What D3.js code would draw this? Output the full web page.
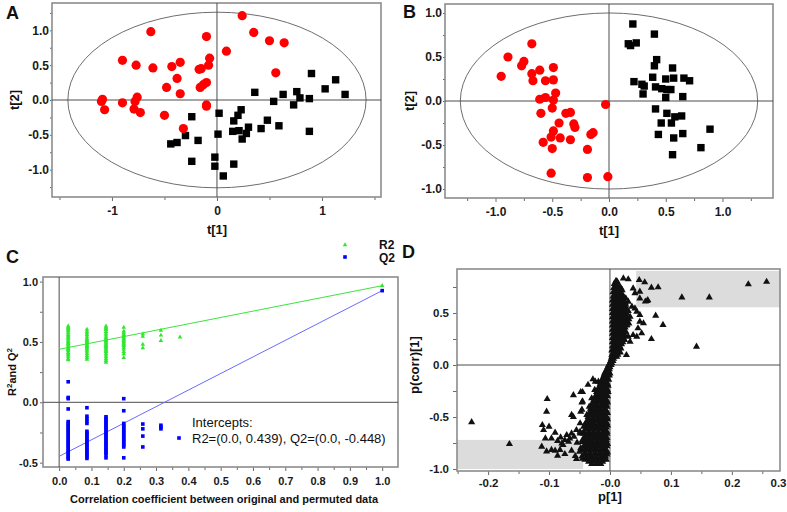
<!DOCTYPE html>
<html>
<head>
<meta charset="utf-8">
<script src="https://cdn.jsdelivr.net/npm/d3@7"></script>
<style>
body{margin:0;background:#fff;}
svg{display:block;font-family:Arial,"Liberation Sans",sans-serif;}
.tick text{font-weight:bold;fill:#1a1a1a;}
.tick line{stroke:#6a6a6a;}
</style>
</head>
<body>
<svg id="fig" width="787" height="512"></svg>
<script>
// ---- panel A: score plot, two groups ----
var aRed = [[0.24,1.21],[-0.63,0.98],[-0.10,0.91],[0.35,0.97],[0.50,0.85],[0.64,0.82],[0.09,0.70],
    [-0.90,0.57],[-0.77,0.50],[-0.61,0.46],[-0.43,0.48],[-0.35,0.54],[-0.07,0.60],[-0.08,0.50],
    [-0.15,0.45],[-0.17,0.44],[-0.38,0.31],[-0.48,0.18],[-0.35,0.09],[-0.10,0.25],[-0.13,0.22],
    [-0.16,0.18],[0.56,0.39],[-1.09,0.01],[-1.10,-0.02],[-1.07,-0.14],[-0.90,-0.04],[-0.76,0.04],
    [-0.78,-0.02],[-0.79,-0.13],[-0.73,-0.18],[-0.50,-0.22],[-0.10,-0.07],[-0.10,-0.09],[-0.32,-0.41]];
var aBlack = [[0.90,0.38],[1.13,0.29],[1.03,0.16],[1.22,0.08],[0.36,0.11],[0.63,0.08],[0.76,0.12],
    [0.79,0.03],[0.88,0.02],[0.54,-0.02],[0.73,-0.07],[0.02,-0.19],[0.23,-0.14],[0.20,-0.22],
    [0.16,-0.30],[0.48,-0.29],[-0.24,-0.24],[0.30,-0.39],[0.28,-0.48],[0.15,-0.45],[0.21,-0.44],
    [0.24,-0.56],[0.42,-0.41],[0.59,-0.37],[0.88,-0.45],[0.01,-0.49],[-0.30,-0.51],[-0.18,-0.58],
    [-0.38,-0.61],[-0.44,-0.63],[-0.24,-0.88],[-0.02,-0.82],[-0.02,-0.95],[0.16,-0.92],[0.06,-1.09]];
var aEllipse = [1.42,1.26];
var aXTicks = [-1,0,1];
var aXMinor = [-1.5,-0.5,0.5,1.5];
var aYTicks = [-1.0,-0.5,0.0,0.5,1.0];
var aYMinor = [-1.25,-0.75,-0.25,0.25,0.75,1.25];

// ---- panel B: score plot after filtering ----
var bRed = [[-0.68,0.65],[-0.89,0.50],[-0.75,0.45],[-0.77,0.40],[-0.95,0.28],[-0.68,0.31],[-0.67,0.23],
    [-0.61,0.35],[-0.49,0.38],[-0.56,0.23],[-0.49,0.24],[-0.47,0.09],[-0.61,0.02],[-0.56,0.04],
    [-0.49,0.01],[-0.50,-0.08],[-0.03,-0.04],[-0.60,-0.14],[-0.38,-0.14],[-0.34,-0.13],[-0.44,-0.25],
    [-0.31,-0.26],[-0.30,-0.30],[-0.49,-0.34],[-0.14,-0.36],[-0.16,-0.38],[-0.51,-0.41],[-0.43,-0.42],
    [-0.34,-0.44],[-0.58,-0.47],[-0.50,-0.54],[-0.19,-0.55],[-0.51,-0.82],[-0.19,-0.87],[-0.01,-0.86]];
var bBlack = [[0.21,0.875],[0.40,0.76],[0.17,0.65],[0.24,0.66],[0.19,0.63],[0.42,0.47],[0.40,0.40],
    [0.56,0.375],[0.22,0.22],[0.29,0.19],[0.31,0.17],[0.385,0.27],[0.50,0.25],[0.57,0.26],[0.66,0.26],
    [0.71,0.23],[0.41,0.16],[0.465,0.14],[0.51,0.13],[0.545,0.13],[0.30,0.08],[0.50,0.04],[0.65,0.05],
    [0.41,-0.09],[0.51,-0.14],[0.58,-0.18],[0.64,-0.17],[0.46,-0.25],[0.55,-0.25],[0.89,-0.32],
    [0.435,-0.38],[0.65,-0.37],[0.57,-0.42],[0.81,-0.53],[0.56,-0.61]];
var bEllipse = [1.31,1.0];
var bXTicks = [-1.0,-0.5,0.0,0.5,1.0];
var bXMinor = [-1.25,-0.75,-0.25,0.25,0.75,1.25];
var bYTicks = [-1.0,-0.5,0.0,0.5,1.0];
var bYMinor = [-0.75,-0.25,0.25,0.75];

// ---- panel C: permutation test ----
// each column: [correlation, list of values]
var r2Columns = [
    [0.028,[0.63,0.62,0.61,0.60,0.59,0.575,0.56,0.55,0.54,0.53,0.515,0.505,0.495,0.485,0.475,0.465,0.455,0.445,0.435,0.425,0.41,0.40,0.39,0.375,0.36,0.35]],
    [0.086,[0.605,0.59,0.575,0.56,0.545,0.53,0.52,0.51,0.50,0.49,0.48,0.47,0.46,0.45,0.44,0.43,0.415,0.40,0.385,0.37,0.355]],
    [0.145,[0.63,0.62,0.61,0.60,0.585,0.57,0.555,0.54,0.53,0.52,0.51,0.50,0.49,0.48,0.47,0.46,0.45,0.44,0.43,0.42,0.405,0.39,0.375,0.36,0.345,0.33]],
    [0.200,[0.62,0.59,0.575,0.56,0.55,0.54,0.53,0.52,0.51,0.50,0.49,0.48,0.47,0.455,0.44,0.42,0.40,0.37]],
    [0.259,[0.565,0.545,0.48,0.45]],
    [0.315,[0.595,0.555,0.51]],
    [0.374,[0.54]],
    [1.000,[0.966]]
];
var q2Columns = [
    [0.028,[0.17,0.04,0.03,-0.055,-0.16,-0.175,-0.19,-0.205,-0.22,-0.235,-0.25,-0.265,-0.28,-0.295,-0.31,-0.325,-0.34,-0.355,-0.37,-0.385,-0.40,-0.415,-0.43,-0.445,-0.46,-0.47]],
    [0.086,[-0.045,-0.115,-0.135,-0.155,-0.175,-0.24,-0.255,-0.27,-0.285,-0.30,-0.315,-0.33,-0.345,-0.36,-0.375,-0.39,-0.405,-0.42,-0.435,-0.45,-0.465]],
    [0.145,[-0.12,-0.135,-0.15,-0.165,-0.18,-0.195,-0.21,-0.225,-0.24,-0.255,-0.27,-0.285,-0.30,-0.315,-0.33,-0.345,-0.36,-0.375,-0.39,-0.405,-0.42,-0.435,-0.46]],
    [0.200,[0.03,-0.07,-0.175,-0.19,-0.205,-0.22,-0.235,-0.25,-0.265,-0.28,-0.295,-0.31,-0.325,-0.34,-0.355,-0.37,-0.46]],
    [0.259,[-0.18,-0.22,-0.28,-0.37]],
    [0.315,[-0.19,-0.205,-0.22]],
    [1.000,[0.925]]
];
var r2Line = [[0,0.439],[1.0,0.966]];
var q2Line = [[0,-0.448],[1.0,0.925]];
var cXTicks = [0.0,0.1,0.2,0.3,0.4,0.5,0.6,0.7,0.8,0.9,1.0];
var cXMinor = [0.05,0.15,0.25,0.35,0.45,0.55,0.65,0.75,0.85,0.95];
var cYTicks = [-0.5,0.0,0.5,1.0];
var cYMinor = [-0.25,0.25,0.75];
var interceptLines = ["Intercepts:","R2=(0.0, 0.439), Q2=(0.0, -0.448)"];

// ---- panel D: S-plot ----
// dense band, rows of [p(corr), list of p values]
var dBand = [
    [-0.95,[-0.03,-0.022,-0.015]],
    [-0.93,[-0.035,-0.028,-0.02,-0.012]],
    [-0.91,[-0.041,-0.034,-0.026,-0.018,-0.011,-0.006]],
    [-0.90,[-0.045,-0.038,-0.03,-0.022,-0.015,-0.008]],
    [-0.88,[-0.046,-0.038,-0.03,-0.022,-0.014,-0.007]],
    [-0.86,[-0.042,-0.034,-0.026,-0.018,-0.01,-0.005]],
    [-0.84,[-0.041,-0.033,-0.025,-0.017,-0.009,-0.004]],
    [-0.82,[-0.045,-0.037,-0.029,-0.021,-0.013,-0.006]],
    [-0.80,[-0.048,-0.039,-0.031,-0.023,-0.015,-0.008]],
    [-0.78,[-0.043,-0.035,-0.027,-0.019,-0.011,-0.005]],
    [-0.76,[-0.04,-0.032,-0.024,-0.016,-0.008,-0.004]],
    [-0.74,[-0.046,-0.038,-0.03,-0.022,-0.014,-0.006]],
    [-0.72,[-0.045,-0.037,-0.029,-0.021,-0.013,-0.006]],
    [-0.70,[-0.042,-0.034,-0.026,-0.018,-0.01,-0.005]],
    [-0.68,[-0.039,-0.031,-0.023,-0.015,-0.007]],
    [-0.66,[-0.044,-0.036,-0.028,-0.02,-0.012,-0.005]],
    [-0.64,[-0.043,-0.035,-0.027,-0.019,-0.011,-0.005]],
    [-0.62,[-0.04,-0.032,-0.024,-0.016,-0.008]],
    [-0.60,[-0.037,-0.029,-0.021,-0.013,-0.006]],
    [-0.58,[-0.041,-0.033,-0.025,-0.017,-0.009,-0.004]],
    [-0.56,[-0.04,-0.033,-0.026,-0.018,-0.011,-0.005]],
    [-0.54,[-0.038,-0.03,-0.022,-0.014,-0.007]],
    [-0.52,[-0.035,-0.027,-0.019,-0.011,-0.004]],
    [-0.50,[-0.036,-0.028,-0.02,-0.012,-0.005]],
    [-0.48,[-0.038,-0.031,-0.023,-0.015,-0.008]],
    [-0.46,[-0.034,-0.026,-0.018,-0.01,-0.004]],
    [-0.44,[-0.03,-0.022,-0.014,-0.006]],
    [-0.42,[-0.032,-0.024,-0.016,-0.008]],
    [-0.40,[-0.034,-0.027,-0.02,-0.012,-0.005]],
    [-0.38,[-0.03,-0.022,-0.014,-0.006]],
    [-0.36,[-0.026,-0.018,-0.01,-0.004]],
    [-0.34,[-0.027,-0.02,-0.013,-0.005]],
    [-0.32,[-0.03,-0.022,-0.015,-0.008]],
    [-0.30,[-0.024,-0.017,-0.01,-0.004]],
    [-0.28,[-0.02,-0.013,-0.006]],
    [-0.26,[-0.022,-0.015,-0.008,-0.003]],
    [-0.24,[-0.025,-0.017,-0.01,-0.004]],
    [-0.22,[-0.019,-0.012,-0.006]],
    [-0.20,[-0.014,-0.008,-0.003]],
    [-0.18,[-0.016,-0.01,-0.004]],
    [-0.16,[-0.019,-0.013,-0.007]],
    [-0.14,[-0.013,-0.007,-0.002]],
    [-0.12,[-0.011,-0.005]],
    [-0.10,[-0.01,-0.005,-0.001]],
    [-0.08,[-0.009,-0.004,0.0]],
    [-0.06,[-0.007,-0.002]],
    [-0.04,[-0.005,-0.001]],
    [-0.02,[-0.004,0.0]],
    [0.00,[-0.002,0.002]],
    [0.02,[0.0,0.003]],
    [0.04,[0.001,0.005]],
    [0.06,[0.002,0.006]],
    [0.08,[0.003,0.007,0.011]],
    [0.10,[0.003,0.008,0.013]],
    [0.12,[0.006,0.012,0.017]],
    [0.14,[0.003,0.009,0.015]],
    [0.16,[0.006,0.012,0.018]],
    [0.18,[0.004,0.01,0.016]],
    [0.20,[0.007,0.013,0.019]],
    [0.22,[0.004,0.01,0.016,0.021]],
    [0.24,[0.007,0.013,0.019,0.024]],
    [0.26,[0.004,0.01,0.016,0.022]],
    [0.28,[0.007,0.013,0.019,0.025]],
    [0.30,[0.004,0.01,0.016,0.022]],
    [0.32,[0.007,0.013,0.019,0.025]],
    [0.34,[0.004,0.01,0.016,0.022]],
    [0.36,[0.007,0.013,0.019,0.025]],
    [0.38,[0.004,0.01,0.016,0.022,0.027]],
    [0.40,[0.007,0.013,0.019,0.025,0.031]],
    [0.42,[0.004,0.01,0.016,0.022,0.028]],
    [0.44,[0.007,0.013,0.019,0.025,0.031]],
    [0.46,[0.004,0.01,0.016,0.022,0.028]],
    [0.48,[0.007,0.013,0.019,0.025]],
    [0.50,[0.004,0.01,0.016,0.022,0.027]],
    [0.52,[0.007,0.013,0.019,0.025,0.03]],
    [0.54,[0.004,0.01,0.016,0.022,0.027]],
    [0.56,[0.007,0.013,0.019,0.025]],
    [0.58,[0.004,0.01,0.016,0.022,0.026]],
    [0.60,[0.007,0.013,0.019,0.025]],
    [0.62,[0.004,0.01,0.016,0.022]],
    [0.64,[0.007,0.013,0.019,0.026]],
    [0.66,[0.005,0.011,0.017,0.022]],
    [0.68,[0.008,0.014,0.02]],
    [0.70,[0.005,0.011,0.017]],
    [0.72,[0.008,0.014,0.02]],
    [0.74,[0.006,0.012,0.018]],
    [0.76,[0.009,0.015]],
    [0.78,[0.007,0.013]],
    [0.80,[0.012]],
    [0.81,[0.01]]
];
var dOutliers = [[0.022,0.833],[0.030,0.824],[0.048,0.817],[0.057,0.795],[0.068,0.743],[0.079,0.747],
    [0.049,0.705],[0.041,0.69],[0.061,0.615],[0.049,0.641],[0.036,0.561],[0.030,0.609],[0.038,0.737],
    [0.041,0.545],[0.044,0.513],[0.049,0.481],[0.075,0.474],[0.087,0.385],[0.068,0.25],[0.049,0.417],
    [0.055,0.401],[0.046,0.353],[0.052,0.305],[0.044,0.272],[0.038,0.288],[0.033,0.224],[0.030,0.272],
    [0.027,0.096],[0.033,0.465],[0.028,0.385],[0.026,0.32],[0.118,0.65],[0.163,0.65],[0.142,0.176],
    [0.227,0.776],[0.257,0.80],[0.058,0.61],[0.062,0.625],
    [-0.227,-0.55],[-0.165,-0.76],[-0.103,-0.327],[-0.104,-0.449],[-0.111,-0.577],[-0.109,-0.625],
    [-0.100,-0.593],[-0.112,-0.785],[-0.106,-0.705],[-0.096,-0.705],[-0.09,-0.65],[-0.06,-0.29],
    [-0.045,-0.26],[-0.063,-0.48],[-0.046,-0.36],[-0.046,-0.43],[-0.086,-0.73],[-0.081,-0.696],
    [-0.074,-0.721],[-0.071,-0.673],[-0.068,-0.737],[-0.066,-0.705],[-0.063,-0.657],[-0.059,-0.689],
    [-0.077,-0.769],[-0.082,-0.817],[-0.09,-0.824],[-0.074,-0.856],[-0.086,-0.872],[-0.063,-0.824],
    [-0.057,-0.875],[-0.055,-0.904],[-0.05,-0.834],[-0.054,-0.747],[-0.049,-0.657],[-0.043,-0.593],
    [-0.034,-0.545],[-0.096,-0.817],[-0.104,-0.83],[-0.079,-0.753],[-0.028,-0.137],[-0.024,-0.16],
    [-0.036,-0.19],[-0.048,-0.26],[-0.045,-0.35],[-0.048,-0.45],[-0.06,-0.50],[-0.049,-0.56],
    [-0.055,-0.625],[-0.049,-0.64]];
// shaded selection boxes: [x0,x1,y0,y1]
var dShades = [[0.043,0.279,0.555,0.905],[-0.251,-0.044,-1.0,-0.72]];
var dXTicks = [-0.2,-0.1,0.0,0.1,0.2,0.3];
var dXMinor = [-0.25,-0.15,-0.05,0.05,0.15,0.25];
var dYTicks = [-1.0,-0.5,0.0,0.5];
var dYMinor = [-0.75,-0.25,0.25,0.75];

// hyphen minus like the original figure
var locale = d3.formatLocale({decimal:".",thousands:",",grouping:[3],currency:["",""],minus:"-"});
var fmt1 = locale.format(".1f");
var fmtInt = locale.format("d");

var svg = d3.select("#fig");

// builds scales for a panel from its frame box
var makeScales = function(box,xDomain,yDomain)
{
    return {
        x: d3.scaleLinear().domain(xDomain).range([box.left,box.right]),
        y: d3.scaleLinear().domain(yDomain).range([box.bottom,box.top])
    };
}

// draws ticks, labels and the gray frame
var drawAxes = function(box,sc,t,opt)
{
    var g = svg.append("g");
    g.append("g").attr("class","xaxis").attr("transform","translate(0,"+box.bottom+")")
        .call(d3.axisBottom(sc.x).tickValues(t.xMajor).tickSize(4)
            .tickPadding(opt.xPad).tickFormat(opt.xFmt));
    g.append("g").attr("transform","translate(0,"+box.bottom+")")
        .call(d3.axisBottom(sc.x).tickValues(t.xMinor).tickSize(3).tickFormat(""));
    g.append("g").attr("transform","translate("+box.left+",0)")
        .call(d3.axisLeft(sc.y).tickValues(t.yMajor).tickSize(opt.yTick)
            .tickPadding(opt.yPad).tickFormat(fmt1));
    g.append("g").attr("transform","translate("+box.left+",0)")
        .call(d3.axisLeft(sc.y).tickValues(t.yMinor).tickSize(opt.yTick).tickFormat(""));
    g.selectAll(".domain").remove();
    g.selectAll(".tick text").attr("font-size",opt.font)
        .attr("font-family","Arial, 'Liberation Sans', sans-serif");

    svg.append("rect")
        .attr("x",box.left).attr("y",box.top)
        .attr("width",box.right-box.left).attr("height",box.bottom-box.top)
        .attr("fill","none").attr("stroke","#8c8c8c").attr("stroke-width",1.6);
    return g;
}

// the zero cross lines
var drawCross = function(box,sc)
{
    svg.append("line").attr("x1",box.left).attr("x2",box.right)
        .attr("y1",sc.y(0)).attr("y2",sc.y(0))
        .attr("stroke","#4d4d4d").attr("stroke-width",1);
    svg.append("line").attr("x1",sc.x(0)).attr("x2",sc.x(0))
        .attr("y1",box.top).attr("y2",box.bottom)
        .attr("stroke","#4d4d4d").attr("stroke-width",1);
}

var addText = function(x,y,txt,size,rotate,weight)
{
    var t = svg.append("text")
        .attr("font-size",size)
        .attr("font-weight",weight || "bold")
        .attr("fill","#111")
        .text(txt);
    if(rotate)
    {
        t.attr("text-anchor","middle")
         .attr("transform","translate("+x+","+y+") rotate(-90)");
    }
    else
    {
        t.attr("x",x).attr("y",y);
    }
    return t;
}

// score plot used for A and B
var drawScores = function(box,sc,ell,red,black)
{
    svg.append("ellipse")
        .attr("cx",sc.x(0)).attr("cy",sc.y(0))
        .attr("rx",sc.x(ell[0])-sc.x(0)).attr("ry",sc.y(0)-sc.y(ell[1]))
        .attr("fill","none").attr("stroke","#6e6e6e").attr("stroke-width",1);
    drawCross(box,sc);
    svg.append("g").selectAll("rect")
        .data(black).enter().append("rect")
        .attr("x",function(d){return sc.x(d[0])-3.7;})
        .attr("y",function(d){return sc.y(d[1])-3.7;})
        .attr("width",7.4).attr("height",7.4)
        .attr("fill","#000");
    svg.append("g").selectAll("circle")
        .data(red).enter().append("circle")
        .attr("cx",function(d){return sc.x(d[0]);})
        .attr("cy",function(d){return sc.y(d[1]);})
        .attr("r",4.6)
        .attr("fill","#ff0000");
}

// ---------- A ----------
var boxA = {left:52,right:381,top:3,bottom:197};
var scA = makeScales(boxA,[-1.571,1.562],[-1.392,1.392]);
drawAxes(boxA,scA,{xMajor:aXTicks,xMinor:aXMinor,yMajor:aYTicks,yMinor:aYMinor},
    {xPad:5,yPad:1,yTick:2,font:12,xFmt:fmtInt});
drawScores(boxA,scA,aEllipse,aRed,aBlack);
addText(217,234,"t[1]",13).attr("text-anchor","middle");
addText(19,100,"t[2]",13,true);
addText(6,19,"A",18);

// ---------- B ----------
var boxB = {left:445,right:773,top:4,bottom:198};
var scB = makeScales(boxB,[-1.445,1.445],[-1.102,1.102]);
drawAxes(boxB,scB,{xMajor:bXTicks,xMinor:bXMinor,yMajor:bYTicks,yMinor:bYMinor},
    {xPad:5,yPad:1,yTick:2,font:12,xFmt:fmt1});
drawScores(boxB,scB,bEllipse,bRed,bBlack);
addText(609,235,"t[1]",13).attr("text-anchor","middle");
addText(414,101,"t[2]",13,true);
addText(403,18,"B",18);

// ---------- C ----------
var boxC = {left:43,right:398,top:277,bottom:467};
var scC = makeScales(boxC,[-0.05,1.049],[-0.536,1.038]);
drawAxes(boxC,scC,{xMajor:cXTicks,xMinor:cXMinor,yMajor:cYTicks,yMinor:cYMinor},
    {xPad:6,yPad:2,yTick:3,font:11,xFmt:fmt1});
drawCross(boxC,scC);

var line = d3.line()
    .x(function(d){return scC.x(d[0]);})
    .y(function(d){return scC.y(d[1]);});
svg.append("path").datum(r2Line).attr("d",line)
    .attr("fill","none").attr("stroke","#3de43d").attr("stroke-width",1);
svg.append("path").datum(q2Line).attr("d",line)
    .attr("fill","none").attr("stroke","#6b6bff").attr("stroke-width",1);

var flatten = function(cols)
{
    var out = [];
    cols.forEach(function(c){ c[1].forEach(function(v){ out.push([c[0],v]); }); });
    return out;
}
var tri = d3.symbol().type(d3.symbolTriangle);
svg.append("g").selectAll("path")
    .data(flatten(r2Columns)).enter().append("path")
    .attr("d",tri.size(9)())
    .attr("transform",function(d){return "translate("+scC.x(d[0])+","+scC.y(d[1])+")";})
    .attr("fill","#2ee82e");
svg.append("g").selectAll("rect")
    .data(flatten(q2Columns)).enter().append("rect")
    .attr("x",function(d){return scC.x(d[0])-1.8;})
    .attr("y",function(d){return scC.y(d[1])-1.8;})
    .attr("width",3.6).attr("height",3.6)
    .attr("fill","#0000ff");

// legend
svg.append("path").attr("d",tri.size(9)())
    .attr("transform","translate(345,245)").attr("fill","#2ee82e");
addText(379,249,"R2",12);
svg.append("rect").attr("x",343.2).attr("y",255.2).attr("width",3.6).attr("height",3.6).attr("fill","#0000ff");
addText(379,262,"Q2",12);

// intercepts note
svg.append("rect").attr("x",177.2).attr("y",436.2).attr("width",3.6).attr("height",3.6).attr("fill","#0000ff");
addText(192,427,interceptLines[0],13,false,"normal");
addText(192,443,interceptLines[1],13,false,"normal");

addText(224,503,"Correlation coefficient between original and permuted data",11).attr("text-anchor","middle");
var yl = svg.append("text").attr("font-size",11).attr("font-weight","bold").attr("fill","#111")
    .attr("text-anchor","middle")
    .attr("transform","translate(16,372) rotate(-90)");
yl.append("tspan").text("R");
yl.append("tspan").attr("dy",-4).attr("font-size",8).text("2");
yl.append("tspan").attr("dy",4).text("and Q");
yl.append("tspan").attr("dy",-4).attr("font-size",8).text("2");
addText(6,263,"C",18);

// ---------- D ----------
var boxD = {left:457,right:780,top:269,bottom:471};
var scD = makeScales(boxD,[-0.251,0.279],[-1.019,0.923]);
svg.append("g").selectAll("rect")
    .data(dShades).enter().append("rect")
    .attr("x",function(d){return scD.x(d[0]);})
    .attr("width",function(d){return scD.x(d[1])-scD.x(d[0]);})
    .attr("y",function(d){return scD.y(d[3]);})
    .attr("height",function(d){return scD.y(d[2])-scD.y(d[3]);})
    .attr("fill","#dcdcdc");
var dFmt = function(v){ return v===0 ? "-0.0" : fmt1(v); };
var axD = drawAxes(boxD,scD,{xMajor:dXTicks,xMinor:dXMinor,yMajor:dYTicks,yMinor:dYMinor},
    {xPad:4,yPad:4,yTick:4,font:11.5,xFmt:dFmt});
// last label sits against the page edge, like the source
axD.select(".xaxis").selectAll(".tick text")
    .filter(function(d){return d===0.3;})
    .attr("text-anchor","end")
    .attr("x",786-scD.x(0.3));
drawCross(boxD,scD);

var dPoints = [];
dBand.forEach(function(r){ r[1].forEach(function(v){ dPoints.push([v,r[0]]); }); });
dPoints = dPoints.concat(dOutliers);
svg.append("g").selectAll("path")
    .data(dPoints).enter().append("path")
    .attr("d",tri.size(22)())
    .attr("transform",function(d){return "translate("+scD.x(d[0])+","+scD.y(d[1])+")";})
    .attr("fill","#111");

addText(610,501,"p[1]",13).attr("text-anchor","middle");
addText(419,365,"p(corr)[1]",13,true);
addText(402,258,"D",18);
</script>
</body>
</html>
